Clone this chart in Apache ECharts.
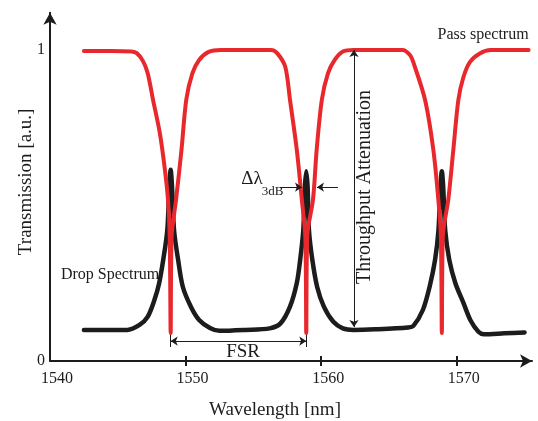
<!DOCTYPE html>
<html>
<head>
<meta charset="utf-8">
<script src="https://cdn.jsdelivr.net/npm/echarts@6/dist/echarts.min.js"></script>
<style>
html, body { margin: 0; padding: 0; background: #fff; }
#chart { width: 538px; height: 421px; }
</style>
</head>
<body>
<div id="chart"></div>
<script>
// wavelength [nm], transmission [a.u.]
const passSpectrum = [
  [1542.5, 0.997], [1544.5, 0.997], [1546.0, 0.995], [1546.4, 0.990], [1546.85, 0.965],
  [1547.2, 0.926], [1547.6, 0.840], [1548.1, 0.733], [1548.45, 0.624], [1548.7, 0.520],
  [1548.83, 0.400], [1548.9, 0.090], [1548.97, 0.400], [1549.3, 0.520], [1549.7, 0.680],
  [1550.05, 0.840], [1550.5, 0.925], [1551.0, 0.968], [1551.7, 0.994], [1552.6, 1.000],
  [1556.3, 1.000], [1556.75, 0.990], [1557.35, 0.946], [1557.7, 0.840], [1558.2, 0.680],
  [1558.57, 0.520], [1558.83, 0.400], [1558.9, 0.090], [1558.97, 0.400], [1559.4, 0.520],
  [1559.67, 0.680], [1560.05, 0.840], [1560.5, 0.925], [1561.0, 0.968], [1561.6, 0.995],
  [1562.4, 1.000], [1566.0, 1.000], [1566.55, 0.984], [1566.8, 0.960], [1567.66, 0.840],
  [1568.27, 0.680], [1568.64, 0.520], [1568.83, 0.400], [1568.9, 0.090], [1568.97, 0.400],
  [1569.38, 0.520], [1569.75, 0.680], [1570.12, 0.840], [1570.5, 0.914], [1570.98, 0.962],
  [1571.7, 0.989], [1572.5, 1.000], [1575.3, 1.000]
];
const dropSpectrum = [
  [1542.5, 0.100], [1544.0, 0.100], [1545.7, 0.100], [1546.6, 0.116], [1547.2, 0.142],
  [1547.7, 0.196], [1548.05, 0.250], [1548.35, 0.325], [1548.65, 0.420], [1548.8, 0.560],
  [1548.9, 0.615], [1549.0, 0.560], [1549.15, 0.420], [1549.45, 0.325], [1549.8, 0.238],
  [1550.4, 0.174], [1551.0, 0.132], [1551.8, 0.106], [1552.5, 0.097], [1554.4, 0.100],
  [1556.2, 0.105], [1557.0, 0.121], [1557.7, 0.175], [1558.2, 0.250], [1558.45, 0.325],
  [1558.68, 0.420], [1558.8, 0.560], [1558.9, 0.610], [1559.0, 0.560], [1559.1, 0.420],
  [1559.35, 0.325], [1559.7, 0.239], [1560.2, 0.175], [1560.9, 0.126], [1561.6, 0.105],
  [1562.4, 0.100], [1564.0, 0.102], [1566.4, 0.108], [1566.8, 0.113], [1567.5, 0.164],
  [1568.0, 0.239], [1568.4, 0.325], [1568.65, 0.420], [1568.8, 0.560], [1568.9, 0.610],
  [1569.0, 0.560], [1569.15, 0.420], [1569.45, 0.325], [1569.9, 0.250], [1570.5, 0.186],
  [1571.0, 0.132], [1571.6, 0.094], [1572.0, 0.086], [1573.5, 0.089], [1575.0, 0.092]
];
const xTickValues = [1550, 1560, 1570];
const xLabelValues = [1540, 1550, 1560, 1570];
const yLabelValues = [0, 1];

// annotation anchors (data coords)
const fsrFrom = 1548.9, fsrTo = 1558.9, fsrLevel = 0.064;
const attenAt = 1562.42, attenTop = 1.0, attenBottom = 0.109;
const dlLevel = 0.559;

const FONT = '"Liberation Serif", "DejaVu Serif", serif';
const RED = '#e8282c';
const INK = '#1c1c1c';

const chart = echarts.init(document.getElementById('chart'));

function txt(name, x, y, size, extra) {
  return {
    name: name,
    coord: [x, y],
    symbolSize: 1,
    itemStyle: { color: 'rgba(0,0,0,0)' },
    label: Object.assign({
      show: true, position: 'inside', formatter: '{b}',
      color: INK, fontFamily: FONT, fontSize: size
    }, extra || {})
  };
}

chart.setOption({
  animation: false,
  backgroundColor: '#fff',
  grid: { left: 50, top: 12.7, width: 482, height: 348.3, outerBoundsMode: 'none' },
  xAxis: [{
    type: 'value', min: 1540, max: 1575.55,
    name: 'Wavelength [nm]', nameLocation: 'middle', nameGap: 40, nameMoveOverlap: false,
    nameTextStyle: { fontFamily: FONT, fontSize: 19, color: INK, padding: [0, 32, 0, 0] },
    axisLine: { lineStyle: { color: INK, width: 2 }, symbol: ['none', 'arrow'], symbolSize: [10, 12] },
    axisTick: { show: true, customValues: xTickValues, length: 5, lineStyle: { color: INK, width: 2 } },
    axisLabel: {
      customValues: xLabelValues, margin: 10, formatter: v => String(v),
      fontFamily: FONT, fontSize: 16, color: INK, padding: [0, 0, 0, 14]
    },
    splitLine: { show: false }
  }, {
    type: 'value', min: 1540, max: 1575.55, position: 'bottom',
    axisLine: { show: false },
    axisTick: { show: true, inside: true, customValues: xTickValues, length: 5, lineStyle: { color: INK, width: 2 } },
    axisLabel: { show: false },
    splitLine: { show: false }
  }],
  yAxis: {
    type: 'value', min: 0, max: 1.12,
    name: 'Transmission [a.u.]', nameLocation: 'middle', nameGap: 14, nameMoveOverlap: false,
    nameTextStyle: { fontFamily: FONT, fontSize: 19, color: INK, padding: [0, 0, 0, 10] },
    axisLine: { lineStyle: { color: INK, width: 2 }, symbol: ['none', 'arrow'], symbolSize: [10, 12] },
    axisTick: { show: false },
    axisLabel: { customValues: yLabelValues, margin: 5, formatter: v => String(v), fontFamily: FONT, fontSize: 16, color: INK },
    splitLine: { show: false }
  },
  series: [{
    name: 'Drop Spectrum', type: 'line', data: dropSpectrum,
    showSymbol: false, smooth: 0.3,
    lineStyle: { color: INK, width: 4.5, cap: 'round', join: 'round' }
  }, {
    name: 'Pass spectrum', type: 'line', data: passSpectrum,
    showSymbol: false, smooth: 0.3,
    lineStyle: { color: RED, width: 4, cap: 'round', join: 'round' }
  }, {
    name: 'annotations', type: 'line', data: [],
    markLine: {
      silent: true, animation: false,
      label: { show: false },
      lineStyle: { color: INK, width: 1, type: 'solid' },
      symbolSize: 7,
      data: [
        // FSR double arrow + end bars
        [{ coord: [fsrFrom, fsrLevel], symbol: 'arrow' }, { coord: [fsrTo, fsrLevel], symbol: 'arrow' }],
        [{ coord: [fsrFrom, 0.084], symbol: 'none' }, { coord: [fsrFrom, 0.045], symbol: 'none' }],
        [{ coord: [fsrTo, 0.084], symbol: 'none' }, { coord: [fsrTo, 0.045], symbol: 'none' }],
        // throughput attenuation
        [{ coord: [attenAt, attenTop], symbol: 'arrow' }, { coord: [attenAt, attenBottom], symbol: 'arrow' }],
        // 3 dB bandwidth arrows
        [{ coord: [1556.97, dlLevel], symbol: 'none' }, { coord: [1558.59, dlLevel], symbol: 'arrow' }],
        [{ coord: [1561.24, dlLevel], symbol: 'none' }, { coord: [1559.69, dlLevel], symbol: 'arrow' }]
      ]
    },
    markPoint: {
      silent: true, animation: false,
      data: [
        txt('Pass spectrum', 1571.94, 1.048, 16),
        txt('Drop Spectrum', 1544.43, 0.2765, 16),
        txt('FSR', 1554.24, 0.0257, 19),
        txt('Throughput Attenuation', 1563.2, 0.558, 20, { rotate: 90 }),
        txt('Δλ', 1554.9, 0.582, 19),
        txt('3dB', 1556.41, 0.543, 13)
      ]
    }
  }]
});
</script>
</body>
</html>
